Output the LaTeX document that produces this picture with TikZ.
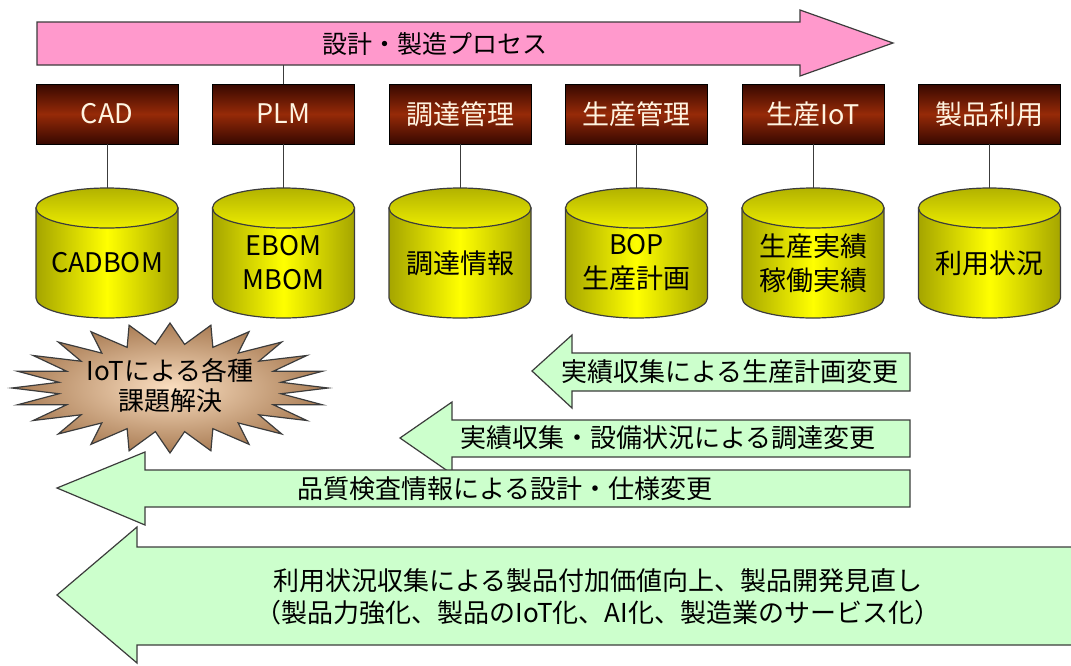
\documentclass[tikz,border=0pt]{standalone}
\usepackage{fontspec}
\setmainfont{Noto Sans CJK JP}
\usepackage{tikz}

\definecolor{pinkfill}{RGB}{255,153,204}
\definecolor{boxdark}{RGB}{55,8,0}
\definecolor{boxred}{RGB}{150,42,8}
\definecolor{boxtext}{RGB}{255,244,225}
\definecolor{dbyellow}{RGB}{255,255,0}
\definecolor{dbolive}{RGB}{165,165,0}
\definecolor{burstin}{RGB}{250,222,192}
\definecolor{burstout}{RGB}{170,125,85}
\definecolor{flowgreen}{RGB}{204,255,204}
\definecolor{edgegray}{RGB}{60,60,60}

\begin{document}
\begin{tikzpicture}[x=1pt, y=-1pt,
    sysbox/.style={draw=black, minimum width=142pt, minimum height=60pt, inner sep=0pt,
      top color=boxdark, bottom color=boxdark, middle color=boxred,
      text=boxtext, font=\fontsize{27}{30}\selectfont},
    dblabel/.style={align=center, inner sep=0pt, font=\fontsize{27}{34}\selectfont},
    burst/.style={draw=edgegray, line width=1.2pt, inner color=burstin, outer color=burstout},
    bursttext/.style={align=center, inner sep=0pt, font=\fontsize{26}{30}\selectfont},
    flow/.style={draw=edgegray, fill=flowgreen, line width=1.2pt},
    flowtext/.style={align=center, inner sep=0pt, font=\fontsize{26}{32}\selectfont}]

    \useasboundingbox (0,0) rectangle (1071,665);
    \clip (0,0) rectangle (1071,665);

    % process arrow
    \draw[fill=pinkfill, draw=edgegray, line width=1.2pt]
      (37,22) -- (800,22) -- (800,10) -- (893,43) -- (800,76) -- (800,65) -- (37,65) -- cycle;
    \node[font=\fontsize{25}{28}\selectfont] (proc) at (435,44) {設計・製造プロセス};
    \coordinate (procfoot) at (283.5,65);

    % systems and their data
    \foreach \cx/\sys/\lab/\db/\txt in {107/cad/CAD/cadbom/CADBOM,
        283.5/plm/PLM/bom/{EBOM\\MBOM},
        460/buy/調達管理/buyinfo/調達情報,
        636.5/prod/生産管理/plan/{BOP\\生産計画},
        813/iot/生産IoT/result/{生産実績\\稼働実績},
        989.5/use/製品利用/usage/利用状況}{
      \shade[draw=edgegray, line width=1.2pt, left color=dbolive, right color=dbolive, middle color=dbyellow]
        (\cx-71,208) -- (\cx-71,298) arc[start angle=180, end angle=0, x radius=71, y radius=20]
        -- (\cx+71,208) -- cycle;
      \shade[draw=edgegray, line width=1.2pt, top color=dbolive!85!dbyellow, bottom color=dbyellow!80!dbolive]
        (\cx,208) ellipse[x radius=71, y radius=20];
      \node[dblabel] (\db) at (\cx,263) {\txt};
      \coordinate (\db top) at (\cx,188);
      \node[sysbox] (\sys) at (\cx,114) {\lab};
      \draw[edgegray, line width=1pt] (\sys.south) -- (\db top);
    }
    \draw[edgegray, line width=1pt] (procfoot) -- (plm.north);

    % burst
    \shade[burst] plot[samples at={0,...,47}, variable=\k]
      ({170+((mod(\k,2)==0) ? 158 : 112)*cos(\k*7.5)}, {388+((mod(\k,2)==0) ? 65 : 44)*sin(\k*7.5)}) -- cycle;
    \node[bursttext] (burst) at (170,386) {IoTによる各種\\課題解決};

    % feedback arrows
    \draw[flow] (532,371) -- (572,335) -- (572,353) -- (910,353) -- (910,391) -- (572,391) -- (572,408) -- cycle;
    \node[flowtext] (fbplan) at (730,372) {実績収集による生産計画変更};

    \draw[flow] (400,438) -- (452,402) -- (452,420) -- (910,420) -- (910,457) -- (452,457) -- (452,474) -- cycle;
    \node[flowtext] (fbbuy) at (668,438) {実績収集・設備状況による調達変更};

    \draw[flow] (57,488) -- (145,452) -- (145,470) -- (910,470) -- (910,507) -- (145,507) -- (145,525) -- cycle;
    \node[flowtext] (fbspec) at (505,489) {品質検査情報による設計・仕様変更};

    \draw[flow] (57,595) -- (137,527) -- (137,547) -- (1080,547) -- (1080,645) -- (137,645) -- (137,663) -- cycle;
    \node[flowtext] (fbvalue) at (598,597) {利用状況収集による製品付加価値向上、製品開発見直し\\（製品力強化、製品のIoT化、AI化、製造業のサービス化）};

\end{tikzpicture}
\end{document}
